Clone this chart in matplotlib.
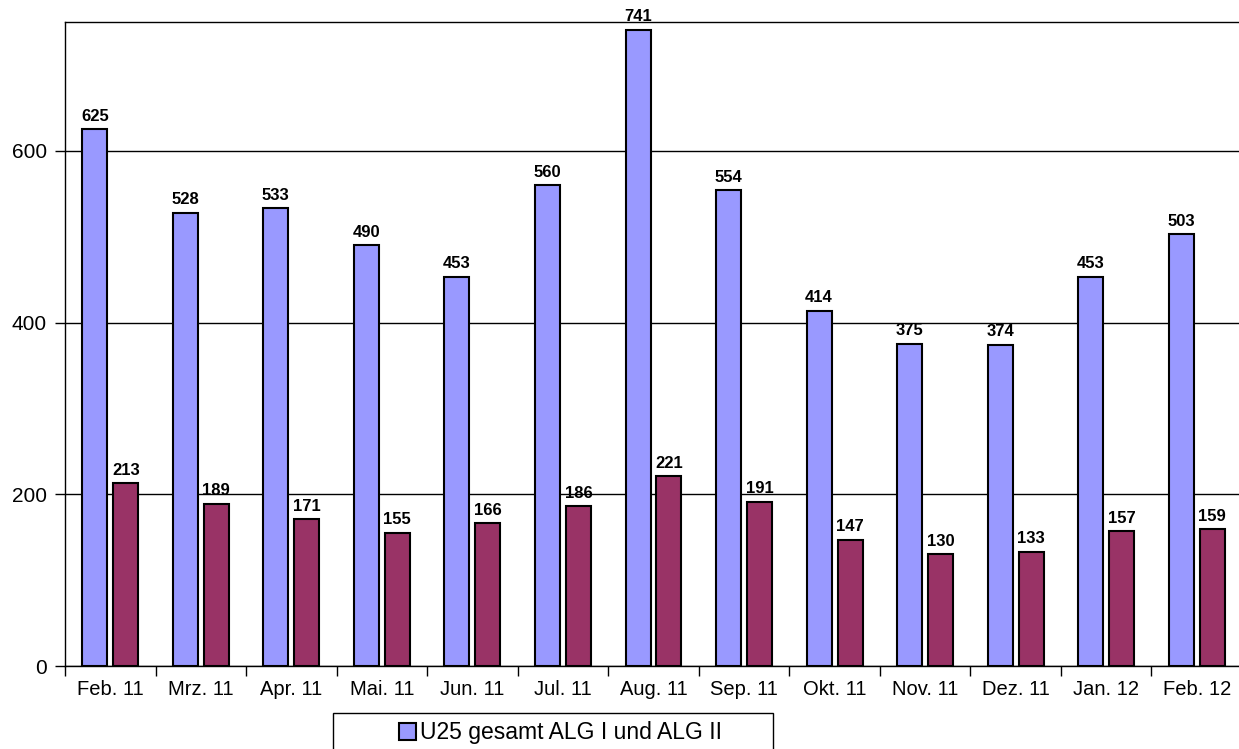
import numpy as np
import matplotlib.pyplot as plt
from matplotlib.patches import Rectangle

monate = ["Feb. 11", "Mrz. 11", "Apr. 11", "Mai. 11", "Jun. 11", "Jul. 11", "Aug. 11",
          "Sep. 11", "Okt. 11", "Nov. 11", "Dez. 11", "Jan. 12", "Feb. 12"]
u25_gesamt = [625, 528, 533, 490, 453, 560, 741, 554, 414, 375, 374, 453, 503]
u25_alg2 = [213, 189, 171, 155, 166, 186, 221, 191, 147, 130, 133, 157, 159]
legende = "U25 gesamt ALG I und ALG II"

plt.rcParams['font.family'] = ['Liberation Sans', 'DejaVu Sans']

W, H = 1239, 749
fig = plt.figure(figsize=(W / 100, H / 100), dpi=100)
ax = fig.add_axes([65 / W, 1 - 666 / H, (1242 - 65) / W, (666 - 22) / H])

x = np.arange(len(monate))
breite = 0.276
versatz = 0.171
b1 = ax.bar(x - versatz, u25_gesamt, breite, color='#9999FF', edgecolor='black', linewidth=1.5, zorder=3)
b2 = ax.bar(x + versatz, u25_alg2, breite, color='#993366', edgecolor='black', linewidth=1.5, zorder=3)

for bars, werte in ((b1, u25_gesamt), (b2, u25_alg2)):
    for b, v in zip(bars, werte):
        ax.annotate(str(v), (b.get_x() + b.get_width() / 2, v), xytext=(0, 4),
                    textcoords='offset points', ha='center', va='bottom',
                    fontsize=12, fontweight='bold')

ax.set_xlim(-0.5, len(monate) - 0.5)
ax.set_ylim(0, 750)
ax.set_yticks([0, 200, 400, 600])
ax.yaxis.grid(True, color='black', linewidth=1)
ax.set_axisbelow(True)
ax.tick_params(axis='y', labelsize=15, length=7, width=1, direction='out', pad=6)

ax.set_xticks(x)
ax.set_xticklabels(monate)
ax.set_xticks(np.arange(-0.5, len(monate), 1), minor=True)
ax.tick_params(axis='x', which='major', length=0, labelsize=14.5, pad=10)
ax.tick_params(axis='x', which='minor', length=7, width=1, direction='out')

for s in ax.spines.values():
    s.set_linewidth(1)
ax.spines['right'].set_visible(False)

# Legendenkasten (unten abgeschnitten wie im Original)
fig.patches.append(Rectangle((333 / W, -0.05), (773 - 333) / W, 0.05 + 1 - 713 / H,
                             transform=fig.transFigure, fill=False, edgecolor='black',
                             linewidth=1))
fig.legend([b1], [legende], loc='center left', bbox_to_anchor=(388 / W, 1 - 733 / H),
           frameon=False, fontsize=16.5, handlelength=0.7, handleheight=0.7,
           handletextpad=0.2, borderpad=0)

fig.savefig("out.png", dpi=100)
